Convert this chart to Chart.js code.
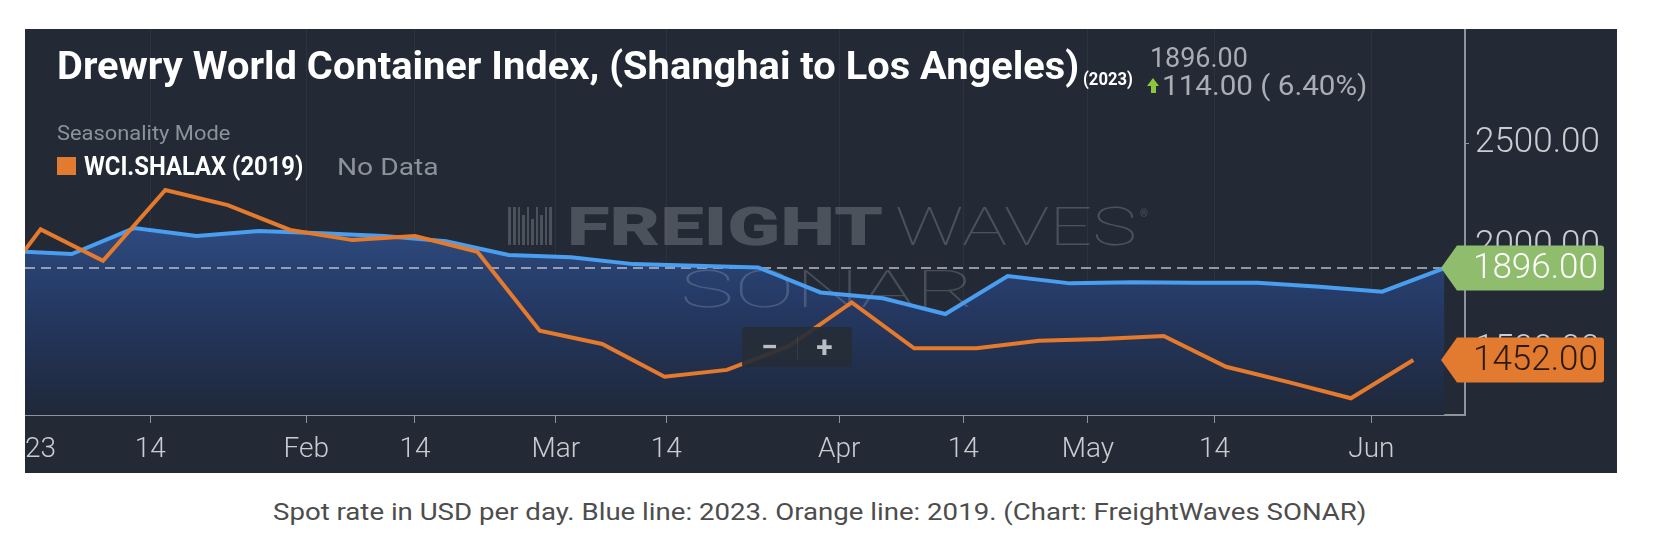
<!DOCTYPE html>
<html>
<head>
<meta charset="utf-8">
<script src="https://cdn.jsdelivr.net/npm/chart.js@4.4.0/dist/chart.umd.min.js"></script>
<style>
  html, body { margin: 0; background: #fff; }
  body { width: 1658px; height: 538px; position: relative; overflow: hidden; font-family: Roboto, sans-serif; }
  #panel { position: absolute; left: 25px; top: 29px; width: 1592px; height: 444px; background: #232a35; overflow: hidden; }
  #panel canvas { position: absolute; left: 0; top: 0; }
  .t { position: absolute; white-space: nowrap; line-height: 1; transform-origin: 0 0; }
  #title { left: 57px; top: 47px; font-size: 39px; font-weight: 700; color: #fff; }
  #year { left: 1083px; top: 70px; font-size: 18px; font-weight: 700; color: #fff; }
  #last { left: 1150px; top: 44px; font-size: 28px; color: #a9aeb5; }
  #change { left: 1162px; top: 72px; font-size: 28px; color: #a9aeb5; }
  #arrow { position: absolute; left: 1147px; top: 78px; width: 13px; height: 15px; }
  #arrow:before { content: ''; position: absolute; left: 0; top: 0; border-left: 6.5px solid transparent; border-right: 6.5px solid transparent; border-bottom: 8px solid #8cc63f; }
  #arrow:after { content: ''; position: absolute; left: 4px; top: 7px; width: 5px; height: 8px; background: #8cc63f; }
  #mode { left: 57px; top: 123px; font-size: 21px; color: #8c929a; }
  #swatch { position: absolute; left: 57px; top: 157px; width: 19px; height: 18px; background: #e27a2f; }
  #series { left: 84px; top: 154px; font-size: 25px; font-weight: 700; color: #fff; }
  #nodata { left: 337px; top: 155px; font-size: 24px; color: #8c929a; }
  #caption { left: 273px; top: 500px; font-size: 24px; color: #4d4d4d; }
  #zoom { position: absolute; left: 742px; top: 327px; width: 110px; height: 40px; background: rgba(38,44,55,0.92); border-radius: 3px; }
  #zoom span { position: absolute; top: 3px; width: 55px; text-align: center; font-size: 30px; font-weight: 700; color: #b9bec5; line-height: 34px; }
  #zoom i { position: absolute; left: 55px; top: 8px; width: 1px; height: 25px; background: rgba(255,255,255,0.08); }
</style>
</head>
<body>
<div id="panel"><canvas id="chart" width="1592" height="444"></canvas></div>
<div class="t" id="title" data-w="1022">Drewry World Container Index, (Shanghai to Los Angeles)</div>
<div class="t" id="year" data-w="50">(2023)</div>
<div class="t" id="last" data-w="98">1896.00</div>
<div id="arrow"></div>
<div class="t" id="change" data-w="205">114.00 ( 6.40%)</div>
<div class="t" id="mode" data-w="173">Seasonality Mode</div>
<div id="swatch"></div>
<div class="t" id="series" data-w="219">WCI.SHALAX (2019)</div>
<div class="t" id="nodata" data-w="101">No Data</div>
<div id="zoom"><span style="left:0">−</span><i></i><span style="left:55px">+</span></div>
<div class="t" id="caption" data-w="1093">Spot rate in USD per day. Blue line: 2023. Orange line: 2019. (Chart: FreightWaves SONAR)</div>
<script>
// x values are days into the year; 2023 weekly index and the 2019 series aligned by season
const blueDays = [-2, 5, 12, 19, 26, 33, 40, 47, 54, 61, 68, 75, 82, 89, 96, 103, 110, 117, 124, 131, 138, 145, 152, 159];
const blueValues = [1978, 1964, 2089, 2051, 2075, 2064, 2051, 2025, 1959, 1948, 1915, 1907, 1899, 1778, 1750, 1674, 1857, 1822, 1827, 1825, 1825, 1806, 1782, 1896];
const orangeDays = [-5.5, 1.5, 8.5, 15.5, 22.5, 29.5, 36.5, 43.5, 50.5, 57.5, 64.5, 71.5, 78.5, 85.5, 92.5, 99.5, 106.5, 113.5, 120.5, 127.5, 134.5, 141.5, 148.5, 155.5];
const orangeValues = [1685, 2083, 1931, 2273, 2200, 2080, 2031, 2051, 1975, 1593, 1529, 1371, 1404, 1520, 1730, 1508, 1508, 1545, 1553, 1568, 1419, 1345, 1267, 1452];

const xTickDays = [-0.25, 13.8, 31.3, 43.5, 59.3, 71.7, 91.1, 105.0, 119.0, 133.2, 150.8];
const xTickLabels = ['2023', '14', 'Feb', '14', 'Mar', '14', 'Apr', '14', 'May', '14', 'Jun'];
const yTicks = [1500, 2000, 2500];

const xMin = -0.25, xMax = 161.3;
const yMin = 1186, yMax = 3051;

const AXIS = '#8e949c';
const LABEL = '#c9cdd2';

// stretch the html texts to the width they take in the picture
document.querySelectorAll('.t').forEach(el => {
    const w = parseFloat(el.dataset.w);
    el.style.transform = 'scaleX(' + (w / el.scrollWidth) + ')';
});

function fitText(ctx, text, x, baseline, width) {
    const m = ctx.measureText(text).width;
    ctx.save();
    ctx.translate(x, baseline);
    ctx.scale(width / m, 1);
    ctx.fillText(text, 0, 0);
    ctx.restore();
}

// watermark and the dashed last-value line, drawn after the fill and before the lines
const watermark = {
    id: 'watermark',
    beforeDatasetsDraw(chart) {
        const ctx = chart.ctx;
        ctx.save();
        ctx.fillStyle = 'rgba(255,255,255,0.19)';
        const bars = [[483, 3, 38], [488, 3, 38], [493, 2, 38], [497, 3, 30], [502, 2, 38], [506, 3, 26], [511, 2, 38], [515, 3, 30], [520, 2, 38], [524, 3, 38]];
        bars.forEach(b => ctx.fillRect(b[0], 216 - b[2], b[1], b[2]));
        ctx.textBaseline = 'alphabetic';
        ctx.font = '900 53px Roboto';
        fitText(ctx, 'FREIGHT', 542, 216, 316);
        ctx.font = '100 53px Roboto';
        fitText(ctx, 'WAVES', 870, 216, 242);
        ctx.font = '10px Roboto';
        ctx.fillText('®', 1115, 188);
        ctx.fillStyle = 'rgba(255,255,255,0.17)';
        ctx.font = '100 52px Roboto';
        fitText(ctx, 'SONAR', 655, 278, 295);

        const y = chart.scales.y.getPixelForValue(blueValues[blueValues.length - 1]);
        ctx.strokeStyle = 'rgba(185,190,198,0.75)';
        ctx.lineWidth = 2;
        ctx.setLineDash([10, 6]);
        ctx.beginPath();
        ctx.moveTo(chart.chartArea.left, y);
        ctx.lineTo(chart.chartArea.right - 24, y);
        ctx.stroke();
        ctx.restore();
    },
    afterDraw(chart) {
        const ctx = chart.ctx;
        const right = chart.chartArea.right;
        const tags = [
            [blueValues[blueValues.length - 1], '#90bd6d', '#ffffff'],
            [orangeValues[orangeValues.length - 1], '#e27a2f', '#2a1a0e']
        ];
        tags.forEach(([v, bg, fg]) => {
            const y = chart.scales.y.getPixelForValue(v);
            const x0 = right - 24, x1 = right - 8, x2 = right + 139, h = 22.5, r = 3;
            ctx.save();
            ctx.fillStyle = bg;
            ctx.beginPath();
            ctx.moveTo(x0, y);
            ctx.lineTo(x1, y - h);
            ctx.lineTo(x2 - r, y - h);
            ctx.quadraticCurveTo(x2, y - h, x2, y - h + r);
            ctx.lineTo(x2, y + h - r);
            ctx.quadraticCurveTo(x2, y + h, x2 - r, y + h);
            ctx.lineTo(x1, y + h);
            ctx.closePath();
            ctx.fill();
            ctx.fillStyle = fg;
            ctx.font = '300 35px Roboto';
            ctx.textBaseline = 'middle';
            ctx.fillText(v.toFixed(2), right + 8, y + 1);
            ctx.restore();
        });
    }
};

Chart.defaults.font.family = 'Roboto';

new Chart(document.getElementById('chart'), {
    type: 'line',
    data: {
        datasets: [{
            label: 'WCI.SHALAX (2019)',
            data: orangeDays.map((d, i) => ({ x: d, y: orangeValues[i] })),
            borderColor: '#e57a2d',
            borderWidth: 4,
            pointRadius: 0,
            fill: false,
            tension: 0
        }, {
            label: 'WCI.SHALAX (2023)',
            data: blueDays.map((d, i) => ({ x: d, y: blueValues[i] })),
            borderColor: '#4a9ef0',
            borderWidth: 4,
            pointRadius: 0,
            tension: 0,
            fill: 'start',
            backgroundColor: function(context) {
                const area = context.chart.chartArea;
                if (!area) return 'rgba(40,65,110,0.8)';
                const g = context.chart.ctx.createLinearGradient(0, area.top + 195, 0, area.bottom);
                g.addColorStop(0, '#2e4b80');
                g.addColorStop(0.45, '#243862');
                g.addColorStop(1, '#1f2839');
                return g;
            }
        }]
    },
    options: {
        responsive: false,
        animation: false,
        layout: { padding: 0 },
        plugins: {
            legend: { display: false },
            tooltip: { enabled: false },
            filler: { drawTime: 'beforeDatasetsDraw' }
        },
        scales: {
            x: {
                type: 'linear',
                min: xMin,
                max: xMax,
                afterBuildTicks: s => { s.ticks = xTickDays.map(v => ({ value: v })); },
                afterFit: s => { s.height = 58; s.paddingLeft = 0; s.paddingRight = 0; },
                ticks: {
                    callback: (v, i) => xTickLabels[i],
                    color: LABEL,
                    font: { size: 28, weight: 300 },
                    maxRotation: 0,
                    autoSkip: false,
                    padding: 10
                },
                grid: {
                    color: c => c.index === 0 ? 'rgba(0,0,0,0)' : 'rgba(255,255,255,0.045)',
                    tickColor: c => c.index === 0 ? 'rgba(0,0,0,0)' : AXIS,
                    tickLength: 8
                },
                border: { color: AXIS, width: 2 }
            },
            y: {
                position: 'right',
                min: yMin,
                max: yMax,
                afterBuildTicks: s => { s.ticks = yTicks.map(v => ({ value: v })); },
                afterFit: s => { s.width = 152; s.paddingTop = 0; s.paddingBottom = 0; },
                ticks: {
                    callback: v => v.toFixed(2),
                    color: LABEL,
                    font: { size: 35, weight: 300 },
                    padding: 6
                },
                grid: { drawOnChartArea: false, tickLength: 4, color: AXIS },
                border: { color: AXIS, width: 2 }
            }
        }
    },
    plugins: [watermark]
});
</script>
</body>
</html>
